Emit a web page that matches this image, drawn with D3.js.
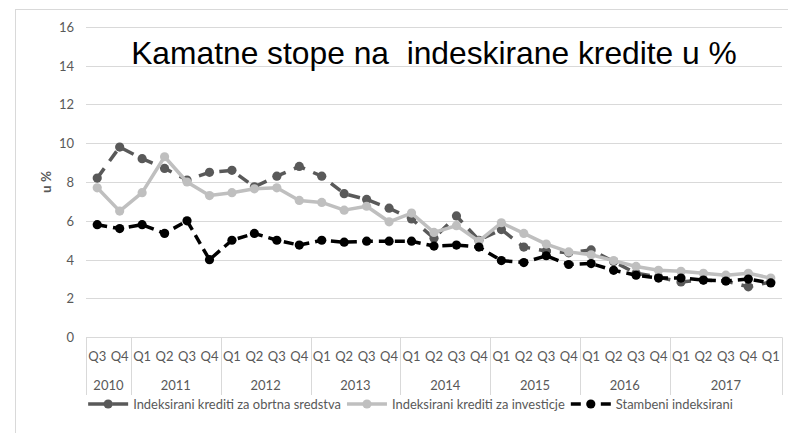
<!DOCTYPE html>
<html>
<head>
<meta charset="utf-8">
<script src="https://cdn.jsdelivr.net/npm/d3@7"></script>
<style>
  body { margin: 0; background: #fff; }
  svg { display: block; }
</style>
</head>
<body>
<svg id="chart" width="788" height="433"></svg>
<script>
// Quarter labels (the last group carries one extra Q1)
const quarters = ["Q3","Q4",
  "Q1","Q2","Q3","Q4",
  "Q1","Q2","Q3","Q4",
  "Q1","Q2","Q3","Q4",
  "Q1","Q2","Q3","Q4",
  "Q1","Q2","Q3","Q4",
  "Q1","Q2","Q3","Q4",
  "Q1","Q2","Q3","Q4","Q1"];
const years = ["2010","2011","2012","2013","2014","2015","2016","2017"];
const quartersPerYear = [2, 4, 4, 4, 4, 4, 4, 5];

// Interest rates, %
const obrtnaSredstva = [8.2, 9.8, 9.2, 8.7, 8.1, 8.5, 8.6, 7.75, 8.3, 8.8, 8.3, 7.4, 7.1, 6.65, 6.1, 5.1,
  6.25, 5.0, 5.55, 4.65, 4.45, 4.35, 4.5, 3.9, 3.3, 3.1, 2.85, 2.95, 2.9, 2.6, 2.85];
const investicije = [7.7, 6.5, 7.45, 9.3, 8.0, 7.3, 7.45, 7.65, 7.7, 7.05, 6.95, 6.55, 6.75, 5.95, 6.4, 5.4,
  5.75, 4.95, 5.9, 5.35, 4.8, 4.4, 4.25, 3.95, 3.65, 3.45, 3.4, 3.3, 3.2, 3.3, 3.05];
const stambeni = [5.8, 5.6, 5.8, 5.35, 6.0, 4.0, 5.0, 5.35, 5.0, 4.75, 5.0, 4.9, 4.95, 4.95, 4.95, 4.7,
  4.75, 4.65, 3.95, 3.85, 4.2, 3.75, 3.8, 3.45, 3.2, 3.05, 3.05, 2.95, 2.9, 3.0, 2.8];

const yTicks = [0, 2, 4, 6, 8, 10, 12, 14, 16];
const seriesNames = ["Indeksirani krediti za obrtna sredstva",
  "Indeksirani krediti za investicje",
  "Stambeni indeksirani"];
const titleText = "Kamatne stope na  indeskirane kredite u %";
const yTitle = "u %";

const svg = d3.select("#chart");
const gridColor = "#d9d9d9";
const labelColor = "#595959";
const labelFont = "Lato, 'Open Sans', sans-serif";

// Chart area frame
svg.append("rect")
  .attr("x", 15.5).attr("y", 9.5).attr("width", 820).attr("height", 440)
  .attr("fill", "#fff").attr("stroke", gridColor).attr("stroke-width", 1);

const plotLeft = 86, plotRight = 782, plotTop = 26.7, plotBottom = 337.3;

const x = d3.scaleBand().domain(d3.range(quarters.length)).range([plotLeft, plotRight]).padding(0);
const cx = i => x(i) + x.bandwidth() / 2;
const y = d3.scaleLinear().domain([0, 16]).range([plotBottom, plotTop]);

// Horizontal gridlines
svg.append("g").selectAll("line").data(yTicks).join("line")
  .attr("x1", plotLeft).attr("x2", plotRight)
  .attr("y1", d => Math.round(y(d)) + 0.5).attr("y2", d => Math.round(y(d)) + 0.5)
  .attr("stroke", gridColor).attr("stroke-width", 1);

// Y tick labels
svg.append("g").selectAll("text").data(yTicks).join("text")
  .attr("x", 74).attr("y", d => y(d))
  .attr("text-anchor", "end").attr("dominant-baseline", "central")
  .attr("font-family", labelFont).attr("font-size", 13).attr("fill", labelColor)
  .text(d => d);

// Y axis title
svg.append("text")
  .attr("transform", `translate(46,${(plotTop + plotBottom) / 2}) rotate(-90)`)
  .attr("text-anchor", "middle").attr("dominant-baseline", "central")
  .attr("font-family", labelFont).attr("font-size", 13.5).attr("font-weight", "bold")
  .attr("fill", labelColor)
  .text(yTitle);

// Multi-level category axis
const groupStarts = [];
let acc = 0;
quartersPerYear.forEach(n => { groupStarts.push(acc); acc += n; });
const separators = groupStarts.map(s => x(s)).concat([plotRight]);
svg.append("g").selectAll("line").data(separators).join("line")
  .attr("x1", d => Math.round(d) + 0.5).attr("x2", d => Math.round(d) + 0.5)
  .attr("y1", plotBottom).attr("y2", 395)
  .attr("stroke", gridColor).attr("stroke-width", 1);

svg.append("g").selectAll("text").data(quarters).join("text")
  .attr("x", (d, i) => cx(i)).attr("y", 356)
  .attr("text-anchor", "middle").attr("dominant-baseline", "central")
  .attr("font-family", labelFont).attr("font-size", 13).attr("fill", labelColor)
  .text(d => d);

svg.append("g").selectAll("text").data(years).join("text")
  .attr("x", (d, i) => (x(groupStarts[i]) + x(groupStarts[i] + quartersPerYear[i] - 1) + x.bandwidth()) / 2)
  .attr("y", 385)
  .attr("text-anchor", "middle").attr("dominant-baseline", "central")
  .attr("font-family", labelFont).attr("font-size", 13).attr("fill", labelColor)
  .text(d => d);

// Series
const series = [
  { values: obrtnaSredstva, color: "#595959", width: 3.5, dash: "12,9", r: 4.6 },
  { values: investicije,    color: "#bfbfbf", width: 3.5, dash: null,   r: 4.6 },
  { values: stambeni,       color: "#000000", width: 3.5, dash: "10,6", r: 4.6 }
];
const line = d3.line().x((d, i) => cx(i)).y(d => y(d));

series.forEach(s => {
  const g = svg.append("g");
  g.append("path").datum(s.values)
    .attr("d", line)
    .attr("fill", "none").attr("stroke", s.color).attr("stroke-width", s.width)
    .attr("stroke-linejoin", "round")
    .attr("stroke-dasharray", s.dash);
  g.selectAll("circle").data(s.values).join("circle")
    .attr("cx", (d, i) => cx(i)).attr("cy", d => y(d)).attr("r", s.r)
    .attr("fill", s.color);
});

// Title, fitted to its width above the plot
const title = svg.append("text")
  .attr("x", (plotLeft + plotRight) / 2).attr("y", 63.5)
  .attr("text-anchor", "middle")
  .attr("font-family", "'Liberation Sans', Arial, sans-serif")
  .attr("font-size", 28).attr("fill", "#000")
  .style("white-space", "pre")
  .text(titleText);
const tw = title.node().getComputedTextLength();
title.attr("font-size", 28 * 606 / tw);

// Legend
const legendY = 404;
const legendG = svg.append("g");
const legendFontSize = (() => {
  const probe = legendG.append("text").attr("font-family", labelFont).attr("font-size", 12).text(seriesNames[0]);
  const w = probe.node().getComputedTextLength();
  probe.remove();
  return 12 * 208 / w;
})();
const symW = 40, symGap = 5, itemGap = 6;
const items = series.map((s, i) => {
  const t = legendG.append("text")
    .attr("font-family", labelFont).attr("font-size", legendFontSize)
    .attr("fill", labelColor).attr("dominant-baseline", "central")
    .attr("y", legendY).text(seriesNames[i]);
  return { s, t, w: t.node().getComputedTextLength() };
});
const totalW = d3.sum(items, d => symW + symGap + d.w) + itemGap * (items.length - 1);
let lx = 410.5 - totalW / 2;
items.forEach((it, i) => {
  const sx = lx, mid = sx + symW / 2;
  if (it.s.dash) {
    const pieces = i === 0 ? [[sx, mid - 4], [mid + 4, sx + symW]] : [[sx, sx + 10], [sx + symW - 10, sx + symW]];
    pieces.forEach(p => legendG.append("line")
      .attr("x1", p[0]).attr("x2", p[1]).attr("y1", legendY).attr("y2", legendY)
      .attr("stroke", it.s.color).attr("stroke-width", it.s.width));
  } else {
    legendG.append("line")
      .attr("x1", sx).attr("x2", sx + symW).attr("y1", legendY).attr("y2", legendY)
      .attr("stroke", it.s.color).attr("stroke-width", it.s.width);
  }
  legendG.append("circle").attr("cx", mid).attr("cy", legendY).attr("r", it.s.r).attr("fill", it.s.color);
  it.t.attr("x", sx + symW + symGap);
  lx += symW + symGap + it.w + itemGap;
});
</script>
</body>
</html>
